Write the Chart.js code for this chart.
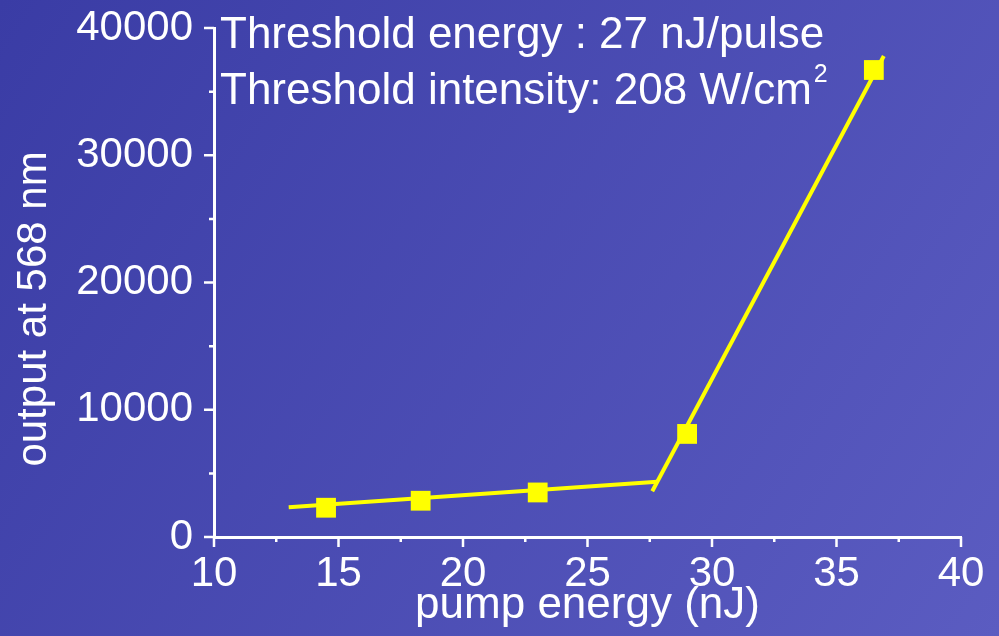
<!DOCTYPE html>
<html>
<head>
<meta charset="utf-8">
<script src="https://cdn.jsdelivr.net/npm/chart.js@4.4.1/dist/chart.umd.min.js"></script>
<style>
  html, body { margin: 0; padding: 0; background: #4a4bb1; }
  #wrap { width: 999px; height: 636px; }
</style>
</head>
<body>
<div id="wrap"><canvas id="thresholdChart"></canvas></div>
<script>
// measured points
const pumpEnergy = [14.5, 18.3, 23.0, 29.0, 36.5];
const output568 = [2300, 2850, 3500, 8100, 36700];

// linear fits below and above threshold
const belowFitX = [13.0, 27.8];
const belowFitY = [2330, 4350];
const aboveFitX = [27.6, 36.9];
const aboveFitY = [3600, 37800];

const xTicks = [10, 15, 20, 25, 30, 35, 40];
const yTicks = [0, 10000, 20000, 30000, 40000];

const FONT = "'Liberation Sans', Arial, sans-serif";
const YELLOW = '#ffff00';

function toPoints(xs, ys) {
    return xs.map((x, i) => ({ x: x, y: ys[i] }));
}

const backdrop = {
    id: 'backdrop',
    beforeDraw(chart) {
        const ctx = chart.ctx;
        const g = ctx.createLinearGradient(0, 0, chart.width, chart.height);
        g.addColorStop(0, '#3a3ca5');
        g.addColorStop(1, '#5b5cc1');
        ctx.save();
        ctx.fillStyle = g;
        ctx.fillRect(0, 0, chart.width, chart.height);
        ctx.restore();
    }
};

// tick marks (major + minor), axis titles and the threshold notes
const decorations = {
    id: 'decorations',
    afterDraw(chart) {
        const ctx = chart.ctx;
        const xs = chart.scales.x, ys = chart.scales.y;
        const area = chart.chartArea;
        ctx.save();
        ctx.strokeStyle = '#ffffff';
        ctx.lineWidth = 2.5;
        ctx.beginPath();
        for (let v = 10; v <= 40; v += 2.5) {
            const px = xs.getPixelForValue(v);
            const len = v % 5 === 0 ? 10 : 5;
            ctx.moveTo(px, area.bottom);
            ctx.lineTo(px, area.bottom + len);
        }
        for (let v = 0; v <= 40000; v += 5000) {
            const py = ys.getPixelForValue(v);
            const len = v % 10000 === 0 ? 10 : 5;
            ctx.moveTo(area.left, py);
            ctx.lineTo(area.left - len, py);
        }
        ctx.stroke();

        ctx.fillStyle = '#ffffff';
        ctx.textBaseline = 'alphabetic';

        ctx.font = '44px ' + FONT;
        ctx.textAlign = 'center';
        ctx.fillText('pump energy (nJ)', (area.left + area.right) / 2, 618);

        ctx.save();
        ctx.translate(46, 309);
        ctx.rotate(-Math.PI / 2);
        ctx.font = '42px ' + FONT;
        ctx.fillText('output at 568 nm', 0, 0);
        ctx.restore();

        ctx.textAlign = 'left';
        ctx.font = '44px ' + FONT;
        ctx.fillText('Threshold energy : 27 nJ/pulse', 220, 48);
        const line2 = 'Threshold intensity: 208 W/cm';
        ctx.fillText(line2, 220, 104);
        const w = ctx.measureText(line2).width;
        ctx.font = '25px ' + FONT;
        ctx.fillText('2', 220 + w + 2, 82);
        ctx.restore();
    }
};

const ctx = document.getElementById('thresholdChart').getContext('2d');
const thresholdChart = new Chart(ctx, {
    type: 'scatter',
    data: {
        datasets: [
            {
                label: 'output',
                data: toPoints(pumpEnergy, output568),
                pointStyle: 'rect',
                pointRadius: 14,
                backgroundColor: YELLOW,
                borderColor: YELLOW,
                borderWidth: 0,
                order: 0
            },
            {
                label: 'below threshold',
                type: 'line',
                data: toPoints(belowFitX, belowFitY),
                borderColor: YELLOW,
                borderWidth: 4,
                pointRadius: 0,
                fill: false,
                order: 1
            },
            {
                label: 'above threshold',
                type: 'line',
                data: toPoints(aboveFitX, aboveFitY),
                borderColor: YELLOW,
                borderWidth: 4,
                pointRadius: 0,
                fill: false,
                order: 1
            }
        ]
    },
    options: {
        responsive: true,
        maintainAspectRatio: false,
        animation: false,
        layout: { padding: { top: 28, right: 38, left: 0, bottom: 0 } },
        plugins: {
            legend: { display: false },
            tooltip: { enabled: false }
        },
        scales: {
            x: {
                type: 'linear',
                min: 10,
                max: 40,
                afterBuildTicks: (scale) => { scale.ticks = xTicks.map(v => ({ value: v })); },
                afterFit: (scale) => {
                    scale.height = 99;
                    scale.paddingLeft = 0;
                    scale.paddingRight = 0;
                },
                grid: { display: false, drawTicks: false },
                border: { display: true, color: '#ffffff', width: 3 },
                ticks: {
                    color: '#ffffff',
                    font: { family: FONT, size: 42 },
                    padding: 12,
                    maxRotation: 0,
                    callback: (v) => String(v)
                }
            },
            y: {
                type: 'linear',
                min: 0,
                max: 40000,
                afterBuildTicks: (scale) => { scale.ticks = yTicks.map(v => ({ value: v })); },
                afterFit: (scale) => {
                    scale.width = 214;
                    scale.paddingTop = 0;
                    scale.paddingBottom = 0;
                },
                grid: { display: false, drawTicks: false },
                border: { display: true, color: '#ffffff', width: 3 },
                ticks: {
                    color: '#ffffff',
                    font: { family: FONT, size: 42 },
                    padding: 21,
                    callback: (v) => String(v)
                }
            }
        }
    },
    plugins: [backdrop, decorations]
});
</script>
</body>
</html>
